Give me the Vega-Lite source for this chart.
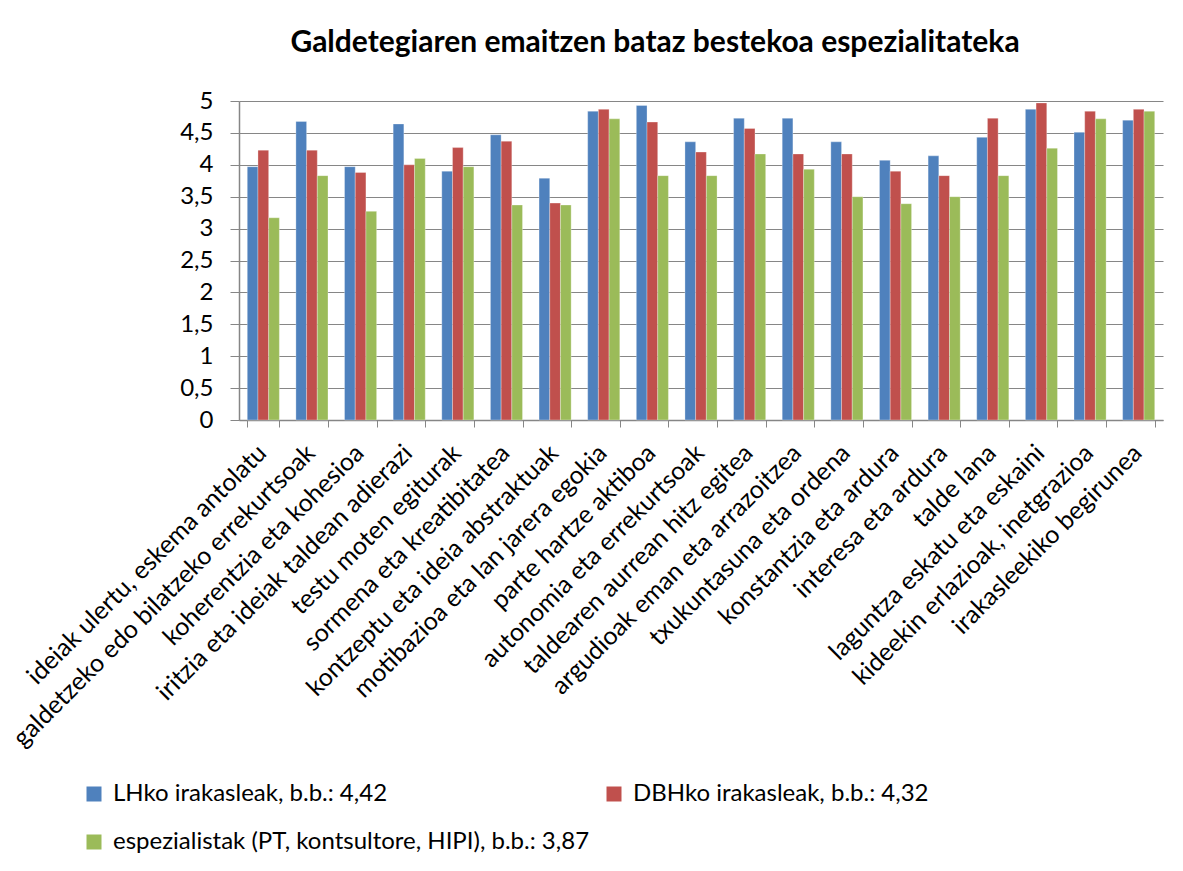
{
  "$schema": "https://vega.github.io/schema/vega-lite/v6.json",
  "width": 924,
  "height": 319,
  "autosize": {"type": "none"},
  "padding": {"left": 239, "top": 101, "right": 20, "bottom": 451},
  "background": "white",
  "title": {
    "text": "Galdetegiaren emaitzen bataz bestekoa espezialitateka",
    "font": "Lato",
    "fontSize": 30,
    "fontWeight": "bold",
    "color": "#000000",
    "anchor": "middle",
    "dx": -46,
    "offset": 31
  },
  "data": {
    "values": [
      {"cat": "ideiak ulertu, eskema antolatu", "grp": "LHko irakasleak, b.b.: 4,42", "v": 3.97},
      {"cat": "ideiak ulertu, eskema antolatu", "grp": "DBHko irakasleak, b.b.: 4,32", "v": 4.23},
      {"cat": "ideiak ulertu, eskema antolatu", "grp": "espezialistak (PT, kontsultore, HIPI), b.b.: 3,87", "v": 3.17},
      {"cat": "galdetzeko edo bilatzeko errekurtsoak", "grp": "LHko irakasleak, b.b.: 4,42", "v": 4.68},
      {"cat": "galdetzeko edo bilatzeko errekurtsoak", "grp": "DBHko irakasleak, b.b.: 4,32", "v": 4.23},
      {"cat": "galdetzeko edo bilatzeko errekurtsoak", "grp": "espezialistak (PT, kontsultore, HIPI), b.b.: 3,87", "v": 3.83},
      {"cat": "koherentzia eta kohesioa", "grp": "LHko irakasleak, b.b.: 4,42", "v": 3.97},
      {"cat": "koherentzia eta kohesioa", "grp": "DBHko irakasleak, b.b.: 4,32", "v": 3.88},
      {"cat": "koherentzia eta kohesioa", "grp": "espezialistak (PT, kontsultore, HIPI), b.b.: 3,87", "v": 3.27},
      {"cat": "iritzia eta ideiak taldean adierazi", "grp": "LHko irakasleak, b.b.: 4,42", "v": 4.64},
      {"cat": "iritzia eta ideiak taldean adierazi", "grp": "DBHko irakasleak, b.b.: 4,32", "v": 4.0},
      {"cat": "iritzia eta ideiak taldean adierazi", "grp": "espezialistak (PT, kontsultore, HIPI), b.b.: 3,87", "v": 4.1},
      {"cat": "testu moten egiturak", "grp": "LHko irakasleak, b.b.: 4,42", "v": 3.9},
      {"cat": "testu moten egiturak", "grp": "DBHko irakasleak, b.b.: 4,32", "v": 4.27},
      {"cat": "testu moten egiturak", "grp": "espezialistak (PT, kontsultore, HIPI), b.b.: 3,87", "v": 3.97},
      {"cat": "sormena eta kreatibitatea", "grp": "LHko irakasleak, b.b.: 4,42", "v": 4.47},
      {"cat": "sormena eta kreatibitatea", "grp": "DBHko irakasleak, b.b.: 4,32", "v": 4.37},
      {"cat": "sormena eta kreatibitatea", "grp": "espezialistak (PT, kontsultore, HIPI), b.b.: 3,87", "v": 3.37},
      {"cat": "kontzeptu eta ideia abstraktuak", "grp": "LHko irakasleak, b.b.: 4,42", "v": 3.79},
      {"cat": "kontzeptu eta ideia abstraktuak", "grp": "DBHko irakasleak, b.b.: 4,32", "v": 3.4},
      {"cat": "kontzeptu eta ideia abstraktuak", "grp": "espezialistak (PT, kontsultore, HIPI), b.b.: 3,87", "v": 3.37},
      {"cat": "motibazioa eta lan jarera egokia", "grp": "LHko irakasleak, b.b.: 4,42", "v": 4.84},
      {"cat": "motibazioa eta lan jarera egokia", "grp": "DBHko irakasleak, b.b.: 4,32", "v": 4.87},
      {"cat": "motibazioa eta lan jarera egokia", "grp": "espezialistak (PT, kontsultore, HIPI), b.b.: 3,87", "v": 4.72},
      {"cat": "parte hartze aktiboa", "grp": "LHko irakasleak, b.b.: 4,42", "v": 4.93},
      {"cat": "parte hartze aktiboa", "grp": "DBHko irakasleak, b.b.: 4,32", "v": 4.67},
      {"cat": "parte hartze aktiboa", "grp": "espezialistak (PT, kontsultore, HIPI), b.b.: 3,87", "v": 3.83},
      {"cat": "autonomia eta errekurtsoak", "grp": "LHko irakasleak, b.b.: 4,42", "v": 4.36},
      {"cat": "autonomia eta errekurtsoak", "grp": "DBHko irakasleak, b.b.: 4,32", "v": 4.2},
      {"cat": "autonomia eta errekurtsoak", "grp": "espezialistak (PT, kontsultore, HIPI), b.b.: 3,87", "v": 3.83},
      {"cat": "taldearen aurrean hitz egitea", "grp": "LHko irakasleak, b.b.: 4,42", "v": 4.73},
      {"cat": "taldearen aurrean hitz egitea", "grp": "DBHko irakasleak, b.b.: 4,32", "v": 4.57},
      {"cat": "taldearen aurrean hitz egitea", "grp": "espezialistak (PT, kontsultore, HIPI), b.b.: 3,87", "v": 4.17},
      {"cat": "argudioak eman eta arrazoitzea", "grp": "LHko irakasleak, b.b.: 4,42", "v": 4.73},
      {"cat": "argudioak eman eta arrazoitzea", "grp": "DBHko irakasleak, b.b.: 4,32", "v": 4.17},
      {"cat": "argudioak eman eta arrazoitzea", "grp": "espezialistak (PT, kontsultore, HIPI), b.b.: 3,87", "v": 3.93},
      {"cat": "txukuntasuna eta ordena", "grp": "LHko irakasleak, b.b.: 4,42", "v": 4.36},
      {"cat": "txukuntasuna eta ordena", "grp": "DBHko irakasleak, b.b.: 4,32", "v": 4.17},
      {"cat": "txukuntasuna eta ordena", "grp": "espezialistak (PT, kontsultore, HIPI), b.b.: 3,87", "v": 3.5},
      {"cat": "konstantzia eta ardura", "grp": "LHko irakasleak, b.b.: 4,42", "v": 4.07},
      {"cat": "konstantzia eta ardura", "grp": "DBHko irakasleak, b.b.: 4,32", "v": 3.9},
      {"cat": "konstantzia eta ardura", "grp": "espezialistak (PT, kontsultore, HIPI), b.b.: 3,87", "v": 3.39},
      {"cat": "interesa eta ardura", "grp": "LHko irakasleak, b.b.: 4,42", "v": 4.14},
      {"cat": "interesa eta ardura", "grp": "DBHko irakasleak, b.b.: 4,32", "v": 3.83},
      {"cat": "interesa eta ardura", "grp": "espezialistak (PT, kontsultore, HIPI), b.b.: 3,87", "v": 3.5},
      {"cat": "talde lana", "grp": "LHko irakasleak, b.b.: 4,42", "v": 4.43},
      {"cat": "talde lana", "grp": "DBHko irakasleak, b.b.: 4,32", "v": 4.73},
      {"cat": "talde lana", "grp": "espezialistak (PT, kontsultore, HIPI), b.b.: 3,87", "v": 3.83},
      {"cat": "laguntza eskatu eta eskaini", "grp": "LHko irakasleak, b.b.: 4,42", "v": 4.87},
      {"cat": "laguntza eskatu eta eskaini", "grp": "DBHko irakasleak, b.b.: 4,32", "v": 4.97},
      {"cat": "laguntza eskatu eta eskaini", "grp": "espezialistak (PT, kontsultore, HIPI), b.b.: 3,87", "v": 4.26},
      {"cat": "kideekin erlazioak, inetgrazioa", "grp": "LHko irakasleak, b.b.: 4,42", "v": 4.51},
      {"cat": "kideekin erlazioak, inetgrazioa", "grp": "DBHko irakasleak, b.b.: 4,32", "v": 4.84},
      {"cat": "kideekin erlazioak, inetgrazioa", "grp": "espezialistak (PT, kontsultore, HIPI), b.b.: 3,87", "v": 4.72},
      {"cat": "irakasleekiko begirunea", "grp": "LHko irakasleak, b.b.: 4,42", "v": 4.7},
      {"cat": "irakasleekiko begirunea", "grp": "DBHko irakasleak, b.b.: 4,32", "v": 4.87},
      {"cat": "irakasleekiko begirunea", "grp": "espezialistak (PT, kontsultore, HIPI), b.b.: 3,87", "v": 4.84}
    ]
  },
  "mark": {"type": "bar", "stroke": "white", "strokeWidth": 0.5, "strokeOpacity": 0.6},
  "encoding": {
    "x": {
      "field": "cat",
      "type": "nominal",
      "sort": null,
      "scale": {"paddingInner": 0.34, "paddingOuter": 0.17},
      "axis": {
        "title": null,
        "labelAngle": -45,
        "labelFont": "Lato",
        "labelFontSize": 25,
        "labelColor": "#000000",
        "labelLimit": 700,
        "labelPadding": 13,
        "labelOffset": -10,
        "tickBand": "extent",
        "tickSize": 7,
        "tickColor": "#868686",
        "domainColor": "#868686",
        "domainWidth": 1.5,
        "grid": false
      }
    },
    "xOffset": {
      "field": "grp",
      "type": "nominal",
      "sort": null,
      "scale": {"paddingInner": 0, "paddingOuter": 0}
    },
    "y": {
      "field": "v",
      "type": "quantitative",
      "scale": {"domain": [0, 5], "nice": false},
      "axis": {
        "title": null,
        "values": [0, 0.5, 1, 1.5, 2, 2.5, 3, 3.5, 4, 4.5, 5],
        "labelExpr": "replace(format(datum.value, '~g'), '.', ',')",
        "labelFont": "Lato",
        "labelFontSize": 24,
        "labelColor": "#000000",
        "labelPadding": 17,
        "tickSize": 9,
        "tickColor": "#868686",
        "domainColor": "#868686",
        "domainWidth": 1.5,
        "grid": true,
        "gridColor": "#868686",
        "gridWidth": 1.2
      }
    },
    "color": {
      "field": "grp",
      "type": "nominal",
      "sort": null,
      "scale": {"range": ["#4F81BD", "#C0504D", "#9BBB59"]},
      "legend": {
        "title": null,
        "orient": "none",
        "direction": "horizontal",
        "legendX": -157,
        "legendY": 681,
        "columns": 2,
        "columnPadding": 12,
        "rowPadding": 24,
        "symbolType": "square",
        "symbolSize": 225,
        "symbolStrokeWidth": 0,
        "labelFont": "Lato",
        "labelFontSize": 24,
        "labelColor": "#000000",
        "labelOffset": 7,
        "labelLimit": 700
      }
    }
  },
  "config": {"view": {"stroke": null}}
}
